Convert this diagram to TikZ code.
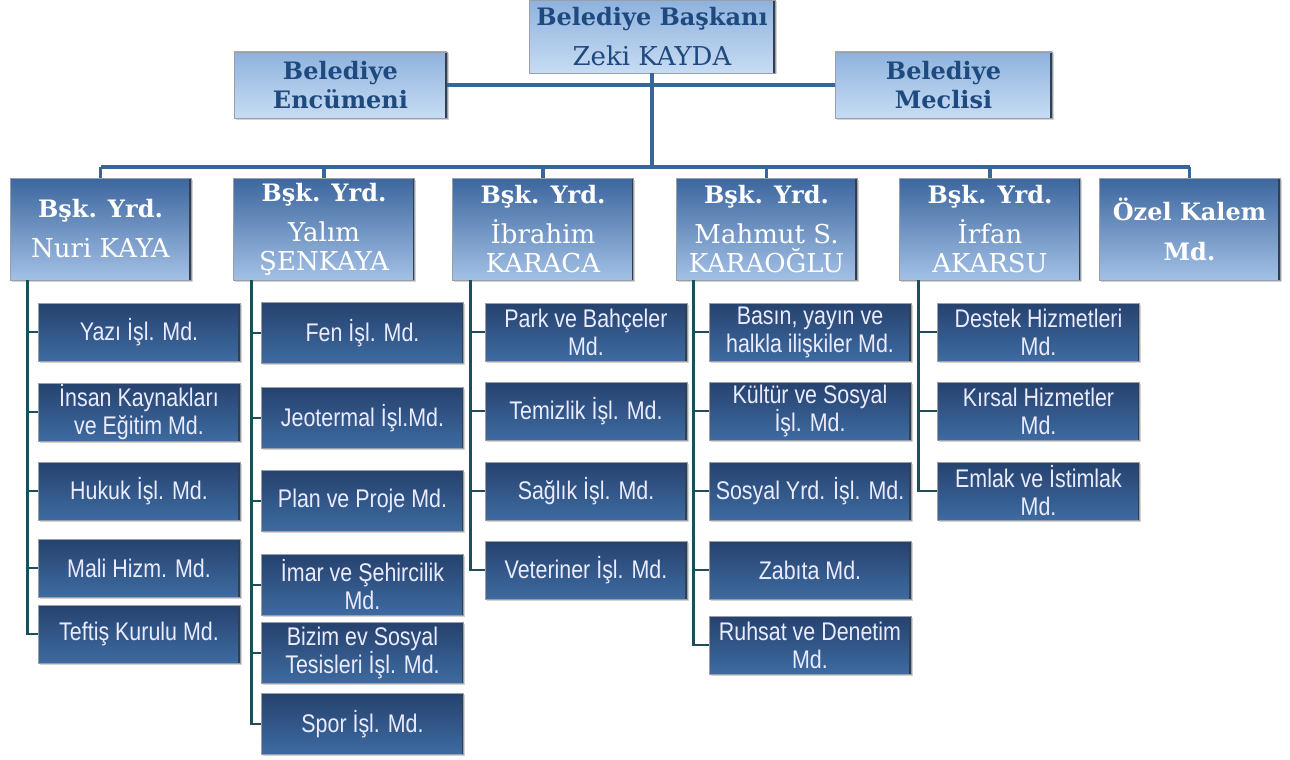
\documentclass[tikz,border=0pt]{standalone}
\usepackage{fontspec}
\setmainfont{DejaVu Serif}
\newfontfamily\narrowsans[FakeStretch=0.84]{Liberation Sans}
\usepackage{xcolor}
\usepackage{tikz}
\usetikzlibrary{shadows}

\definecolor{topA}{HTML}{8EB2DD}
\definecolor{topB}{HTML}{C8DCF3}
\definecolor{midA}{HTML}{3C669E}
\definecolor{midB}{HTML}{A3C1E6}
\definecolor{lowA}{HTML}{26426E}
\definecolor{lowB}{HTML}{3E6BA1}
\definecolor{linkblue}{HTML}{3A6597}
\definecolor{linkteal}{HTML}{1E4E5C}
\definecolor{textblue}{HTML}{1F4A80}
\definecolor{edgedark}{HTML}{1A2A40}

\tikzset{
  bevel/.style={draw=edgedark!45, line width=0.6pt, inner sep=0pt, align=center,
    drop shadow={opacity=0.35, shadow xshift=1.5pt, shadow yshift=-1.5pt},
    path picture={\draw[line width=3.5pt, edgedark!90]
      (path picture bounding box.north east) -- (path picture bounding box.south east);}},
  headbox/.style={bevel, top color=topA, bottom color=topB, text=textblue,
    font=\fontsize{24}{29}\selectfont\bfseries},
  yrdbox/.style={bevel, minimum width=181pt, minimum height=102pt,
    top color=midA, bottom color=midB, text=white, font=\fontsize{26}{29}\selectfont},
  unitbox/.style={bevel, minimum width=202pt, minimum height=58pt,
    top color=lowA, bottom color=lowB, text=white!92!blue,
    font=\narrowsans\fontsize{25.5}{28}\selectfont},
  mainlink/.style={draw=linkblue, line width=3.5pt},
  sublink/.style={draw=linkteal, line width=2.8pt},
}
\newcommand{\yrdtext}[1]{{\bfseries\fontsize{24}{29}\selectfont Bşk. Yrd.}\\[11pt]#1}

\begin{document}
\begin{tikzpicture}[x=1pt, y=-1pt]
  \useasboundingbox (0,0) rectangle (1290,760);

  % Top level
  \node[headbox, minimum width=246pt, minimum height=73pt] (baskan) at (652,36.5)
    {Belediye Başkanı\\[11pt]{\mdseries\fontsize{26}{29}\selectfont Zeki KAYDA}};
  \node[headbox, minimum width=213pt, minimum height=66pt] (encumen) at (340.5,85)
    {Belediye\\Encümeni};
  \node[headbox, minimum width=217pt, minimum height=66pt] (meclis) at (943.5,85)
    {Belediye\\Meclisi};

  % Deputies
  \node[yrdbox] (yrd1) at (100.5,229) {\yrdtext{Nuri KAYA}};
  \node[yrdbox] (yrd2) at (324,229) {\yrdtext{Yalım\\ŞENKAYA}};
  \node[yrdbox] (yrd3) at (543,229) {\yrdtext{İbrahim\\KARACA}};
  \node[yrdbox] (yrd4) at (766.5,229) {\yrdtext{Mahmut S.\\KARAOĞLU}};
  \node[yrdbox] (yrd5) at (990,229) {\yrdtext{İrfan\\AKARSU}};
  \node[yrdbox, font=\fontsize{24}{29}\selectfont\bfseries] (kalem) at (1189.5,229)
    {Özel Kalem\\[11pt]Md.};

  % Links between the top boxes and the bus
  \coordinate (bus) at (654,167);
  \draw[mainlink] (encumen.east) -- (meclis.west);
  \draw[mainlink] (baskan.south) -- (baskan.south |- bus);
  \draw[mainlink] (yrd1.north |- bus) -- (kalem.north |- bus);
  \foreach \p in {yrd1,yrd2,yrd3,yrd4,yrd5,kalem}
    \draw[mainlink] (\p.north |- bus) -- (\p.north);

  % Units under each deputy
  \foreach \y/\t [count=\i] in {332/{Yazı İşl. Md.}, 412/{İnsan Kaynakları\\ve Eğitim  Md.},
      491/{Hukuk İşl. Md.}, 568/{Mali Hizm. Md.}, 634/{Teftiş  Kurulu Md.}}
    \node[unitbox] (u1\i) at (139,\y) {\t};
  \foreach \y/\t [count=\i] in {333/{Fen İşl. Md.}, 418/{Jeotermal İşl.Md.},
      501/{Plan ve Proje Md.}, 585/{İmar ve Şehircilik\\Md.},
      653/{Bizim ev Sosyal\\Tesisleri İşl. Md.}, 724/{Spor İşl. Md.}}
    \node[unitbox, minimum height=61pt] (u2\i) at (362.5,\y) {\t};
  \foreach \y/\t [count=\i] in {332/{Park ve Bahçeler\\Md.}, 411/{Temizlik İşl. Md.},
      491/{Sağlık İşl. Md.}, 570/{Veteriner İşl. Md.}}
    \node[unitbox] (u3\i) at (586,\y) {\t};
  \foreach \y/\t [count=\i] in {332/{Basın, yayın ve\\halkla ilişkiler Md.},
      411/{Kültür ve Sosyal\\İşl. Md.}, 491/{Sosyal Yrd. İşl. Md.},
      570/{Zabıta Md.}, 645/{Ruhsat ve Denetim\\Md.}}
    \node[unitbox] (u4\i) at (810,\y) {\t};
  \foreach \y/\t [count=\i] in {332/{Destek Hizmetleri\\Md.}, 411/{Kırsal Hizmetler\\Md.},
      491/{Emlak ve İstimlak\\Md.}}
    \node[unitbox] (u5\i) at (1038.5,\y) {\t};

  % Trunk lines
  \foreach \i in {1,...,5} \draw[sublink] ([xshift=18pt]yrd1.south west) |- (u1\i.west);
  \foreach \i in {1,...,6} \draw[sublink] ([xshift=18pt]yrd2.south west) |- (u2\i.west);
  \foreach \i in {1,...,4} \draw[sublink] ([xshift=18pt]yrd3.south west) |- (u3\i.west);
  \foreach \i in {1,...,5} \draw[sublink] ([xshift=18pt]yrd4.south west) |- (u4\i.west);
  \foreach \i in {1,...,3} \draw[sublink] ([xshift=19pt]yrd5.south west) |- (u5\i.west);
\end{tikzpicture}
\end{document}
